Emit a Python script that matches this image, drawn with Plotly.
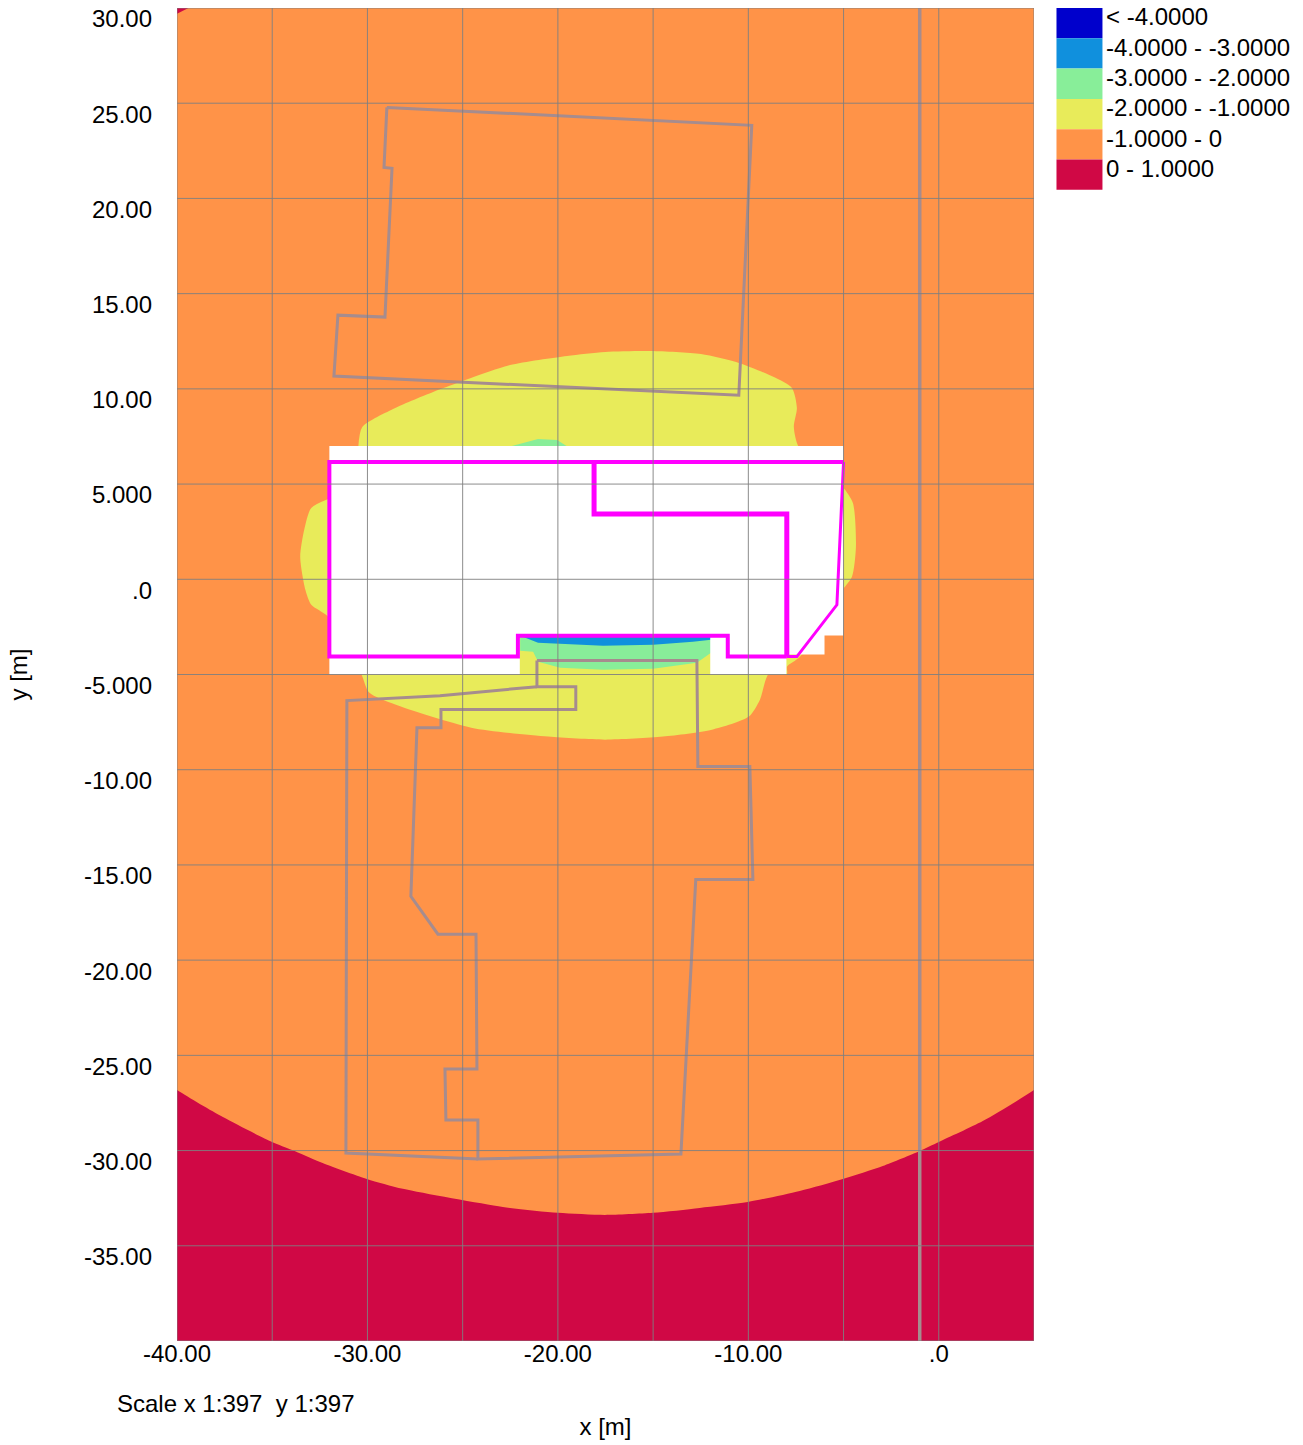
import plotly.graph_objects as go

# ---- axes ----
x_ticks = [-40, -30, -20, -10, 0]
x_labels = ["-40.00", "-30.00", "-20.00", "-10.00", ".0"]
y_ticks = [30, 25, 20, 15, 10, 5, 0, -5, -10, -15, -20, -25, -30, -35]
y_labels = ["30.00", "25.00", "20.00", "15.00", "10.00", "5.000", ".0", "-5.000",
            "-10.00", "-15.00", "-20.00", "-25.00", "-30.00", "-35.00"]
x_grid = [-40, -35, -30, -25, -20, -15, -10, -5, 0, 5]
y_grid = [30, 25, 20, 15, 10, 5, 0, -5, -10, -15, -20, -25, -30, -35, -40]

# ---- legend ----
legend_labels = ["< -4.0000", "-4.0000 - -3.0000", "-3.0000 - -2.0000",
                 "-2.0000 - -1.0000", "-1.0000 - 0", "0 - 1.0000"]
legend_colors = ["#0000cc", "#1090dd", "#88ee99", "#e8eb5a", "#ff9348", "#d00845"]
BLUE, GREEN, YELLOW, ORANGE, CRIMSON = legend_colors[1:]

# ---- filled bands (x, y in metres) ----
field_x = [-40, 5, 5, -40]
field_y = [-40, -40, 30, 30]

# the last points run outside the visible range, so the smoothing stays out of view
low_x = [-44, -40, -37.59, -35.01, -33.96, -32.49, -30.03, -28.14, -22.89, -20, -17.53, -15.01, -12.55,
         -10.03, -7.3, -5.04, -2.94, -1, 0, 2.31, 5, 9, 9, -44]
low_y = [-24, -26.82, -28.24, -29.55, -29.97, -30.6, -31.49, -32.01, -32.96, -33.27, -33.38, -33.27, -33.01,
         -32.7, -32.12, -31.49, -30.81, -30.02, -29.55, -28.45, -26.82, -24, -60, -60]

corner_x = [-40, -39.4, -40]
corner_y = [30, 30, 29.7]

blob_x = [-30.48, -30.27, -28.54, -26.55, -25.13, -22.51, -19.52, -17.52, -15.11, -12.49, -10.49, -8.66,
          -7.71, -7.45, -7.61, -7.35, -5.04, -4.51, -4.35, -4.56, -5.04, -7.29, -7.97, -7.97, -8.92,
          -9.39, -9.97, -11.91, -14.48, -17.52, -20.51, -24.55, -28.54, -29.91, -30.33, -32.06,
          -32.95, -33.26, -33.53, -33.32, -32.95, -32.06]
blob_y = [6.95, 8.0, 9.0, 9.84, 10.36, 11.25, 11.73, 11.94, 11.99, 11.83, 11.36, 10.62,
          10.05, 9.0, 8.0, 6.95, 4.85, 4.01, 1.71, 0.13, -0.55, -4.07, -4.59, -4.96, -4.96,
          -6.32, -7.21, -7.9, -8.26, -8.42, -8.26, -7.79, -6.58, -5.95, -4.96, -1.97,
          -1.34, -0.55, 1.18, 2.6, 3.75, 4.22]

green_top_x = [-22.61, -21.04, -20.04, -19.46]
green_top_y = [6.95, 7.37, 7.32, 6.95]

green_low_x = [-21.98, -11.96, -11.96, -12.7, -15.0, -17.63, -19.88, -21.04, -21.3, -21.98]
green_low_y = [-2.96, -2.96, -3.86, -4.38, -4.7, -4.75, -4.64, -4.33, -3.8, -3.75]

blue_x = [-21.98, -21.04, -17.63, -15, -12.91, -11.96, -11.96]
blue_y = [-2.96, -3.33, -3.49, -3.44, -3.28, -3.17, -2.96]

# ---- masked (no result) area ----
mask_x = [-32, -5, -5, -6, -6, -8, -8, -12, -12, -22, -22, -32]
mask_y = [7, 7, -2.95, -2.95, -3.95, -3.95, -5, -5, -2.95, -2.95, -5, -5]

# ---- outlines ----
building_x = [-7.98, -11.08, -11.08, -22.1, -22.1, -32, -32, -5]
building_y = [-4.06, -4.06, -2.96, -2.96, -4.06, -4.06, 6.16, 6.16]
slant_x = [-5, -5.35, -7.45, -7.98]
slant_y = [6.16, -1.34, -4.06, -4.06]
wing_x = [-18.1, -18.1, -7.98, -7.98]
wing_y = [6.16, 3.43, 3.43, -4.06]

north_x = [-28.98, -9.82, -10.5, -31.76, -31.55, -29.08, -28.71, -29.13, -28.98]
north_y = [24.78, 23.84, 9.67, 10.67, 13.87, 13.77, 21.58, 21.63, 24.78]
south_x = [-21.1, -12.7, -12.65, -9.92, -9.76, -12.76, -13.54, -24.2, -24.2, -25.88, -25.93, -24.25,
           -24.3, -26.3, -27.72, -27.4, -26.14, -26.14, -19.06, -19.06, -21.1, -21.1]
south_y = [-4.27, -4.27, -9.83, -9.83, -15.76, -15.76, -30.18, -30.44, -28.4, -28.4, -25.72, -25.72,
           -18.64, -18.64, -16.65, -7.79, -7.79, -6.84, -6.84, -5.64, -5.64, -4.27]
south_wing_x = [-24.2, -31.13, -31.08, -26.19, -21.1]
south_wing_y = [-30.44, -30.13, -6.37, -6.11, -5.64]
rail_x = [-1, -1]
rail_y = [-40, 30]

# ---- page layout ----
W, H = 1303, 1445
L, R, T, B = 177, 1034.5, 7.5, 1341.5
GRID = "rgba(128,128,128,0.9)"
OUTLINE = "#a68c8e"
MAGENTA = "#ff00ff"


def px(v):
    return (v - L) / (R - L)


def py(v):
    return (B - v) / (B - T)


fig = go.Figure()


def fill(xs, ys, color, shape="linear"):
    fig.add_trace(go.Scatter(x=xs, y=ys, mode="lines", fill="toself", fillcolor=color,
                             line=dict(width=0, color=color, shape=shape, smoothing=0.7),
                             hoverinfo="skip", showlegend=False))


def stroke(xs, ys, color, width):
    fig.add_trace(go.Scatter(x=xs, y=ys, mode="lines", line=dict(color=color, width=width),
                             hoverinfo="skip", showlegend=False))


fill(field_x, field_y, ORANGE)
fill(low_x, low_y, CRIMSON, "spline")
fill(corner_x, corner_y, CRIMSON)
fill(blob_x, blob_y, YELLOW, "spline")
fill(green_top_x, green_top_y, GREEN)
fill(green_low_x, green_low_y, GREEN)
fill(blue_x, blue_y, BLUE)
fill(mask_x, mask_y, "#ffffff")

stroke(north_x, north_y, OUTLINE, 3)
stroke(south_x, south_y, OUTLINE, 3)
stroke(south_wing_x, south_wing_y, OUTLINE, 3)
stroke(rail_x, rail_y, OUTLINE, 3.5)
stroke(building_x, building_y, MAGENTA, 4)
stroke(slant_x, slant_y, MAGENTA, 3)
stroke(wing_x, wing_y, MAGENTA, 5)

for gx in x_grid:
    stroke([gx, gx], [y_grid[-1], y_grid[0]], GRID, 1)
for gy in y_grid:
    stroke([x_grid[0], x_grid[-1]], [gy, gy], GRID, 1)

# legend drawn at the right of the plot
ROW = 30.33
shapes, notes = [], []
for i, (label, color) in enumerate(zip(legend_labels, legend_colors)):
    top = T + i * ROW
    shapes.append(dict(type="rect", xref="paper", yref="paper", x0=px(1057), x1=px(1103),
                       y0=py(top + ROW), y1=py(top), fillcolor=color, line=dict(width=0)))
    notes.append(dict(text=label, xref="paper", yref="paper", x=px(1105), y=py(top + 9),
                      xanchor="left", yanchor="middle", showarrow=False,
                      font=dict(size=24, color="#000000")))

notes.append(dict(text="Scale x 1:397  y 1:397", xref="paper", yref="paper", x=px(115), y=py(1404),
                  xanchor="left", yanchor="middle", showarrow=False,
                  font=dict(size=24, color="#000000")))

fig.update_layout(
    width=W, height=H,
    margin=dict(l=L, r=W - R, t=T, b=H - B, pad=0, autoexpand=False),
    paper_bgcolor="white", plot_bgcolor="white",
    font=dict(family="Liberation Sans, Arial, sans-serif", size=24, color="#000000"),
    shapes=shapes, annotations=notes, showlegend=False,
    xaxis=dict(range=[-40, 5], tickmode="array", tickvals=x_ticks, ticktext=x_labels,
               showgrid=False, zeroline=False, showline=False, ticks="", automargin=False,
               tickangle=0, ticklabelstandoff=-4,
               title=dict(text="x [m]", standoff=52, font=dict(size=24))),
    yaxis=dict(range=[-40, 30], tickmode="array", tickvals=y_ticks, ticktext=y_labels,
               showgrid=False, zeroline=False, showline=False, ticks="", automargin=False,
               ticklabelstandoff=24, ticklabelshift=11,
               title=dict(text="y [m]", standoff=49, font=dict(size=24))),
)

fig.write_html("out.html", config=dict(displayModeBar=False),
               post_script="document.body.style.margin='0';")
